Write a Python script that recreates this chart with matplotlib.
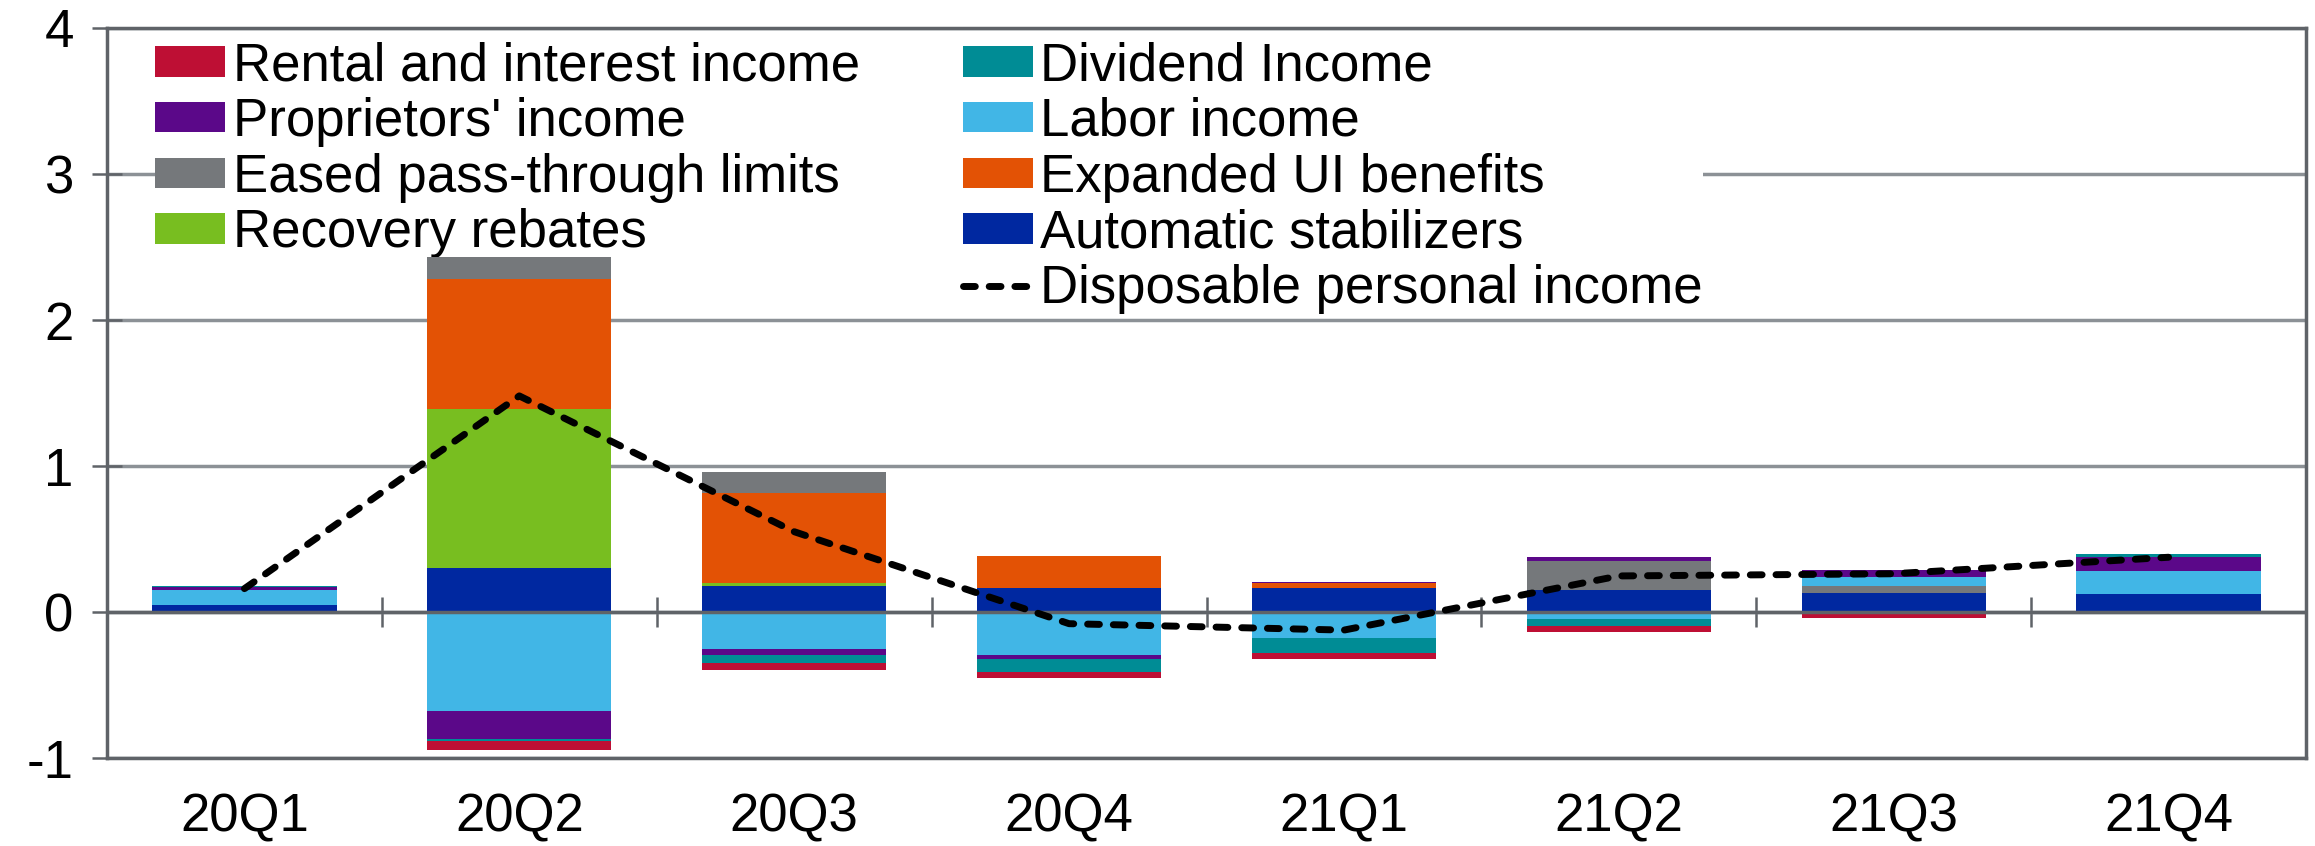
import numpy as np
import matplotlib
matplotlib.use("Agg")
import matplotlib.pyplot as plt
from matplotlib.patches import Patch
from matplotlib.lines import Line2D

# trimestres del eje x
trimestres = ["20Q1", "20Q2", "20Q3", "20Q4", "21Q1", "21Q2", "21Q3", "21Q4"]

# contribuciones (puntos porcentuales)
automaticos = [0.05, 0.30, 0.18, 0.167, 0.167, 0.15, 0.13, 0.12]
reembolsos = [0.0, 1.09, 0.016, 0.0, 0.0, 0.0, 0.0, 0.0]
desempleo = [0.0, 0.89, 0.62, 0.217, 0.03, 0.0, 0.0, 0.0]
traspaso = [0.0, 0.15, 0.14, 0.0, 0.0, 0.20, 0.046, 0.0]
laboral = [0.10, -0.68, -0.255, -0.296, -0.18, -0.05, 0.062, 0.16]
propietarios = [0.018, -0.19, -0.04, -0.027, 0.011, 0.03, 0.052, 0.10]
dividendos = [0.012, -0.015, -0.056, -0.09, -0.10, -0.045, -0.015, 0.015]
rentas = [-0.01, -0.06, -0.043, -0.04, -0.04, -0.04, -0.027, -0.01]

# ingreso personal disponible
ingreso_disponible = [0.16, 1.48, 0.55, -0.08, -0.124, 0.247, 0.262, 0.375]

# orden de apilado: desde el cero hacia afuera
series = [
    ("Automatic stabilizers", automaticos, "#0028A0"),
    ("Recovery rebates", reembolsos, "#78BE20"),
    ("Expanded UI benefits", desempleo, "#E35205"),
    ("Eased pass-through limits", traspaso, "#75787B"),
    ("Labor income", laboral, "#41B6E6"),
    ("Proprietors' income", propietarios, "#5B0889"),
    ("Dividend Income", dividendos, "#008C95"),
    ("Rental and interest income", rentas, "#BE0F34"),
]

plt.rcParams['font.family'] = ['Liberation Sans', 'DejaVu Sans']
plt.rcParams['axes.unicode_minus'] = False
gris_eje = "#5f6368"
gris_grilla = "#8c9196"
tam = 38

fig = plt.figure(figsize=(23.15, 8.46), dpi=100)
ax = fig.add_axes([107 / 2315, 1 - 758 / 846, (2306 - 107) / 2315, (758 - 28) / 846])

x = np.arange(len(trimestres))
base_pos = np.zeros(len(x))
base_neg = np.zeros(len(x))
for nombre, valores, color in series:
    v = np.array(valores, dtype=float)
    base = np.where(v >= 0, base_pos, base_neg)
    ax.bar(x, v, 0.67, bottom=base, color=color, linewidth=0, zorder=6)
    base_pos += np.where(v > 0, v, 0)
    base_neg += np.where(v < 0, v, 0)

linea_estilo = dict(color="black", lw=5, linestyle=(0, (1.7, 2.0)), dash_capstyle="round")
ax.plot(x, ingreso_disponible, zorder=8, **linea_estilo)

# linea del cero
ax.axhline(0, color=gris_eje, lw=2.5, zorder=7)

ax.set_xlim(-0.5, len(x) - 0.5)
ax.set_ylim(-1, 4)
ax.set_yticks(range(-1, 5))
ax.yaxis.grid(True, color=gris_grilla, lw=2.5)
ax.set_axisbelow(True)
ax.tick_params(axis="y", direction="inout", length=22, width=1.8, color=gris_eje,
               labelsize=tam, pad=13)
ax.set_xticks(x, trimestres)
ax.tick_params(axis="x", length=0, labelsize=tam, pad=25)
for s in ax.spines.values():
    s.set_color(gris_eje)
    s.set_linewidth(2.5)

# marcas entre categorias sobre el cero
y0, y1 = ax.get_ylim()
sec = ax.secondary_xaxis((0 - y0) / (y1 - y0))
sec.set_xticks(x[:-1] + 0.5)
sec.tick_params(direction="inout", length=22, width=1.8, color=gris_eje, labelbottom=False)
sec.spines["bottom"].set_visible(False)

# leyenda en dos columnas (orden por filas como en el original)
def parche(nombre):
    col = [c for n, v, c in series if n == nombre][0]
    return Patch(facecolor=col, edgecolor="none", label=nombre)

vacio = Patch(facecolor="none", edgecolor="none", label="")
linea_ley = Line2D([], [], label="Disposable personal income", **linea_estilo)
handles = [parche("Rental and interest income"), parche("Proprietors' income"),
           parche("Eased pass-through limits"), parche("Recovery rebates"), vacio,
           parche("Dividend Income"), parche("Labor income"),
           parche("Expanded UI benefits"), parche("Automatic stabilizers"), linea_ley]
ley = ax.legend(handles=handles, ncol=2, loc="upper left",
                bbox_to_anchor=(155 / 2315, 1 - 41 / 846), bbox_transform=fig.transFigure,
                fontsize=tam, handlelength=1.33, handleheight=0.52, handletextpad=0.14,
                columnspacing=1.95, labelspacing=0.11, borderpad=0, borderaxespad=0,
                frameon=True, fancybox=False, edgecolor="none", facecolor="white",
                framealpha=1)

fig.savefig("out.png", dpi=100)
